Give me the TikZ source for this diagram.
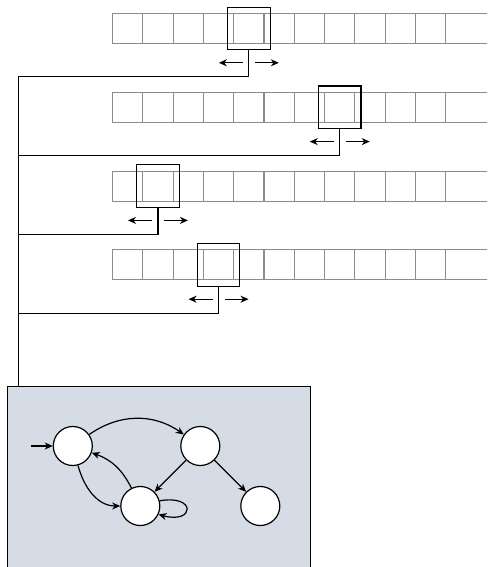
\documentclass[tikz,border=0pt]{standalone}
\usetikzlibrary{arrows.meta}
\definecolor{tapegray}{HTML}{8C8C8C}
\definecolor{boxfill}{HTML}{D5DCE6}
\tikzset{
  cellbox/.style={draw=tapegray, line width=1.1pt, minimum width=30.3pt, minimum height=30pt, inner sep=0pt, outer sep=0pt},
  headbox/.style={draw=black, line width=1.2pt, minimum width=42.6pt, minimum height=42.6pt, inner sep=0pt},
  wire/.style={draw=black, line width=1.2pt},
  tip/.style={-{Stealth[length=8pt,width=7pt,inset=2.5pt]}},
  dirarrow/.style={draw=black, line width=1.2pt, tip},
  state/.style={circle, draw=black, fill=white, line width=1.2pt, minimum size=39pt, inner sep=0pt},
  trans/.style={draw=black, line width=1.2pt, tip},
  fsmbox/.style={draw=black, fill=boxfill, line width=1.2pt}
}
\begin{document}
\begin{tikzpicture}[x=1pt,y=-1pt]
\useasboundingbox (0,0) rectangle (487,567);
\clip (0,0) rectangle (487,567);
% tapes
\foreach \t/\T/\h in {1/13.5/4, 2/92.3/7, 3/171.1/1, 4/249.9/3}{
  \foreach \i in {0,...,10}{
    \node[cellbox] (c\t-\i) at ({112.5+30.3*(\i+0.5)},\T+15) {};
  }
  \draw[draw=tapegray, line width=1.1pt] (c\t-10.north east) -- ++(60,0);
  \draw[draw=tapegray, line width=1.1pt] (c\t-10.south east) -- ++(60,0);
  \node[headbox] (h\t) at (c\t-\h) {};
  \coordinate (j\t) at (18.3,\T+63.2);
  \draw[wire] (h\t.south) |- (j\t);
  \coordinate (la\t) at ([xshift=-6pt,yshift=-12.4pt]h\t.south);
  \coordinate (lb\t) at ([xshift=-30pt,yshift=-12.4pt]h\t.south);
  \coordinate (ra\t) at ([xshift=6pt,yshift=-12.4pt]h\t.south);
  \coordinate (rb\t) at ([xshift=30pt,yshift=-12.4pt]h\t.south);
  \draw[dirarrow] (la\t) -- (lb\t);
  \draw[dirarrow] (ra\t) -- (rb\t);
}
% finite control box
\node[fsmbox, minimum width=303.3pt, minimum height=200pt, inner sep=0pt, anchor=north west] (fsm) at (6.7,385.7) {};
\draw[wire] (j1) -- (fsm.north -| j1);
% states
\node[state] (q0) at (72.8,446) {};
\node[state] (q1) at (200.3,446) {};
\node[state] (q2) at (140.3,506) {};
\node[state] (q3) at (260.3,506) {};
\coordinate (start) at (31,446);
\draw[trans] (start) -- (q0);
\draw[trans] (q0) to[bend left=35] (q1);
\draw[trans] (q0) to[out=-75,in=180] (q2.west);
\draw[trans] (q2) to[bend right=22] (q0);
\draw[trans] (q1) -- (q2);
\draw[trans] (q1) -- (q3);
\draw[trans] (q2.15) to[out=10,in=-15,looseness=7] (q2.-25);
\end{tikzpicture}
\end{document}
